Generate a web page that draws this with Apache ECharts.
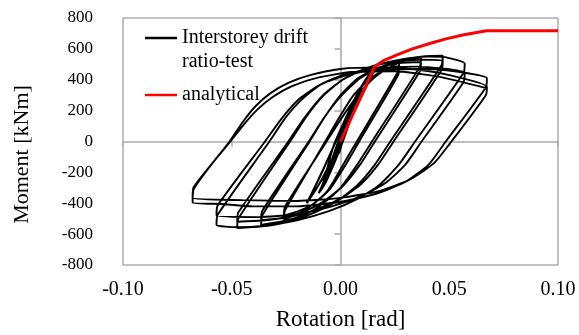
<!DOCTYPE html>
<html>
<head>
<meta charset="utf-8">
<script src="https://cdn.jsdelivr.net/npm/echarts@6/dist/echarts.min.js"></script>
<style>
  html, body { margin: 0; padding: 0; background: #fff; }
  #chart { width: 579px; height: 335px; }
</style>
</head>
<body>
<div id="chart"></div>
<script>
// Moment-rotation hysteresis of the interstorey drift test, one array per drift level
// (each entry is [rotation rad, moment kNm]) plus the analytical backbone.
const drift0025 = [
  [0, 0], [0.0025, 95], [0, -12], [-0.0025, -95], [0, 12], [0.0025, 93], [0, -14], [-0.0025, -93]
];
const drift005 = [
  [-0.0005, -70], [0.0035, 140], [0.005, 185], [0.0035, 130], [0, -25], [-0.0035, -145], [-0.005, -190],
  [-0.0035, -135], [0, 20], [0.0035, 138], [0.005, 182], [0.0035, 128], [0, -27], [-0.0035, -146], [-0.005, -188]
];
const drift0075 = [
  [-0.0035, -136], [0, 30], [0.003, 140], [0.0055, 215], [0.0075, 260], [0.006, 210], [0.003, 95], [0, -35],
  [-0.003, -145], [-0.0055, -220], [-0.0075, -265], [-0.006, -215], [-0.003, -100], [0, 28], [0.003, 138],
  [0.0055, 212], [0.0075, 256], [0.006, 207], [0.003, 92], [0, -37], [-0.003, -147], [-0.0055, -221], [-0.0075, -262]
];
const drift01 = [
  [-0.006, -214], [-0.004, -120], [0, 40], [0.004, 175], [0.007, 265], [0.01, 330], [0.008, 265], [0.004, 120],
  [0, -40], [-0.004, -175], [-0.007, -270], [-0.01, -335], [-0.008, -270], [-0.004, -122], [0, 37], [0.004, 172],
  [0.007, 262], [0.01, 326], [0.008, 262], [0.004, 117], [0, -42], [-0.004, -177], [-0.007, -271], [-0.01, -333]
];
const drift015 = [
  [-0.008, -268], [-0.003, -20], [0.002, 140], [0.007, 290], [0.011, 390], [0.0155, 475], [0.0138, 420],
  [0.009, 280], [0.004, 130], [-0.001, -25], [-0.006, -175], [-0.011, -305], [-0.0155, -400], [-0.0135, -348],
  [-0.008, -185], [-0.003, -28], [0.002, 130], [0.007, 280], [0.011, 380], [0.0155, 462], [0.0138, 410],
  [0.009, 272], [0.004, 122], [-0.001, -30], [-0.006, -180], [-0.011, -305], [-0.0155, -395]
];
const drift025 = [
  [-0.0135, -342], [-0.008, -180], [-0.003, -25], [0.002, 135], [0.007, 285], [0.012, 400], [0.017, 470],
  [0.022, 500], [0.027, 515], [0.0265, 455], [0.0075, 0], [0.0012, -150], [-0.006, -320], [-0.013, -410],
  [-0.019, -465], [-0.026, -505], [-0.0255, -445], [-0.007, 0], [-0.0008, 150], [0.006, 300], [0.013, 400],
  [0.02, 460], [0.027, 490], [0.0265, 430], [0.0086, 0], [0.0024, -150], [-0.005, -310], [-0.012, -400],
  [-0.019, -450], [-0.026, -480]
];
const drift035 = [
  [-0.0255, -420], [-0.0064, 0], [0.0004, 150], [0.008, 300], [0.016, 420], [0.024, 490], [0.03, 525],
  [0.037, 545], [0.0365, 485], [0.0145, 0], [0.0077, -150], [0, -300], [-0.008, -400], [-0.016, -470],
  [-0.026, -515], [-0.0365, -540], [-0.036, -480], [-0.0142, 0], [-0.0074, 155], [0, 300], [0.008, 410],
  [0.017, 475], [0.027, 508], [0.037, 515], [0.0365, 455], [0.0158, 0], [0.009, -150], [0.001, -290],
  [-0.008, -390], [-0.017, -455], [-0.027, -495], [-0.0365, -510]
];
const drift045 = [
  [-0.036, -450], [-0.0146, 0], [-0.0075, 155], [0, 290], [0.009, 410], [0.019, 485], [0.03, 532],
  [0.039, 552], [0.047, 555], [0.0465, 495], [0.0229, 0], [0.0158, -150], [0.008, -280], [-0.001, -380],
  [-0.012, -460], [-0.024, -520], [-0.036, -550], [-0.0475, -560], [-0.047, -500], [-0.0232, 0],
  [-0.016, 155], [-0.008, 295], [0.001, 400], [0.012, 475], [0.024, 515], [0.036, 530], [0.047, 525],
  [0.0465, 465], [0.0244, 0], [0.0173, -150], [0.0095, -275], [0, -370], [-0.012, -445], [-0.024, -490],
  [-0.036, -512], [-0.0475, -520]
];
const drift055 = [
  [-0.047, -460], [-0.024, 0], [-0.0165, 155], [-0.008, 300], [0.002, 410], [0.014, 485], [0.028, 532],
  [0.04, 550], [0.047, 548], [0.0571, 505], [0.0566, 445], [0.0343, 0], [0.0268, -150], [0.018, -280],
  [0.008, -370], [-0.005, -450], [-0.02, -510], [-0.035, -545], [-0.047, -555], [-0.057, -540],
  [-0.0565, -475], [-0.0327, 0], [-0.0255, 150], [-0.018, 270], [-0.009, 370], [0.002, 435], [0.016, 475],
  [0.035, 485], [0.0571, 445], [0.0566, 385], [0.0373, 0], [0.0298, -150], [0.021, -265], [0.01, -350],
  [-0.004, -420], [-0.02, -470], [-0.038, -490], [-0.057, -480]
];
const drift065 = [
  [-0.0565, -415], [-0.0347, 0], [-0.027, 150], [-0.019, 275], [-0.009, 370], [0.004, 435], [0.02, 468],
  [0.04, 470], [0.055, 450], [0.0673, 410], [0.0668, 350], [0.0484, 0], [0.0405, -150], [0.03, -260],
  [0.016, -340], [0, -390], [-0.02, -420], [-0.04, -420], [-0.055, -405], [-0.068, -395], [-0.0675, -310],
  [-0.051, 0], [-0.045, 125], [-0.039, 230], [-0.032, 315], [-0.024, 380], [-0.014, 430], [0, 470],
  [0.017, 480], [0.035, 465], [0.05, 430], [0.0673, 355], [0.0668, 300], [0.051, 0], [0.043, -140],
  [0.032, -245], [0.018, -320], [0, -365], [-0.02, -385], [-0.045, -380], [-0.068, -365], [-0.0675, -295],
  [-0.0506, 0], [-0.0445, 110], [-0.038, 210], [-0.031, 290], [-0.022, 360], [-0.01, 415], [0.005, 450],
  [0.025, 455], [0.045, 420], [0.0673, 345]
];
const analytical = [
  [0, 0], [0.0157, 486], [0.0195, 522], [0.0257, 560], [0.033, 600], [0.041, 635],
  [0.0485, 665], [0.0562, 690], [0.0671, 717], [0.1, 717]
];

const rotationTicks = { min: -0.1, max: 0.1, interval: 0.05 };
const momentTicks = { min: -800, max: 800, interval: 200 };
const testName = 'Interstorey drift\nratio-test';
const analyticalName = 'analytical';

const testCurve = [].concat(drift0025, drift005, drift0075, drift01, drift015,
  drift025, drift035, drift045, drift055, drift065);

const FONT = 'Liberation Serif';
const zeroLine = '#a9a9a9';

const chart = echarts.init(document.getElementById('chart'), null, { renderer: 'canvas' });
chart.setOption({
  animation: false,
  backgroundColor: '#ffffff',
  grid: {
    left: 123, right: 21, top: 18, bottom: 70,
    show: true, borderColor: '#858585', borderWidth: 1,
    outerBoundsMode: 'none'
  },
  legend: {
    orient: 'vertical',
    left: 145, top: 2,
    padding: 0,
    icon: 'rect',
    itemWidth: 32, itemHeight: 2.5, itemGap: 9,
    textStyle: { fontFamily: FONT, fontSize: 20, color: '#000', lineHeight: 24 },
    // a leading blank line keeps the sample line level with the first text line
    formatter: name => (name === testName ? '\n' + name : name),
    data: [testName, analyticalName]
  },
  xAxis: [
    {
      type: 'value', ...rotationTicks,
      position: 'bottom',
      axisLine: { show: false, onZero: false },
      axisTick: { show: false },
      splitLine: { show: false },
      axisLabel: {
        fontFamily: FONT, fontSize: 20, color: '#000', margin: 15,
        formatter: v => (Math.abs(v) < 1e-9 ? 0 : v).toFixed(2)
      },
      name: 'Rotation [rad]', nameLocation: 'middle', nameGap: 43,
      nameTextStyle: { fontFamily: FONT, fontSize: 23, color: '#000' }
    },
    {
      type: 'value', ...rotationTicks,
      position: 'bottom',
      axisLine: { show: true, onZero: true, onZeroAxisIndex: 0, lineStyle: { color: zeroLine, width: 1.5 } },
      axisTick: { show: true, inside: false, length: 5, lineStyle: { color: zeroLine, width: 1.5 } },
      axisLabel: { show: false },
      splitLine: { show: false }
    }
  ],
  yAxis: [
    {
      type: 'value', ...momentTicks,
      position: 'left',
      axisLine: { show: false, onZero: false },
      axisTick: { show: false },
      splitLine: { show: false },
      axisLabel: { fontFamily: FONT, fontSize: 17, color: '#000', margin: 30 },
      name: 'Moment [kNm]', nameLocation: 'middle', nameGap: 90, nameRotate: 90,
      nameTextStyle: { fontFamily: FONT, fontSize: 22, color: '#000', padding: [0, 26, 0, 0] }
    },
    {
      type: 'value', ...momentTicks,
      position: 'left',
      axisLine: { show: true, onZero: true, onZeroAxisIndex: 0, lineStyle: { color: zeroLine, width: 1.5 } },
      axisTick: { show: true, inside: false, length: 6, lineStyle: { color: zeroLine, width: 1.5 } },
      axisLabel: { show: false },
      splitLine: { show: false }
    }
  ],
  series: [
    {
      name: testName, type: 'line', data: testCurve,
      xAxisIndex: 0, yAxisIndex: 0,
      symbol: 'none', showSymbol: false,
      smooth: 0.2,
      lineStyle: { color: '#000', width: 1.9 },
      itemStyle: { color: '#000' },
      z: 2
    },
    {
      name: analyticalName, type: 'line', data: analytical,
      xAxisIndex: 0, yAxisIndex: 0,
      symbol: 'none', showSymbol: false,
      lineStyle: { color: '#ff0000', width: 3 },
      itemStyle: { color: '#ff0000' },
      z: 3
    }
  ]
});
</script>
</body>
</html>
